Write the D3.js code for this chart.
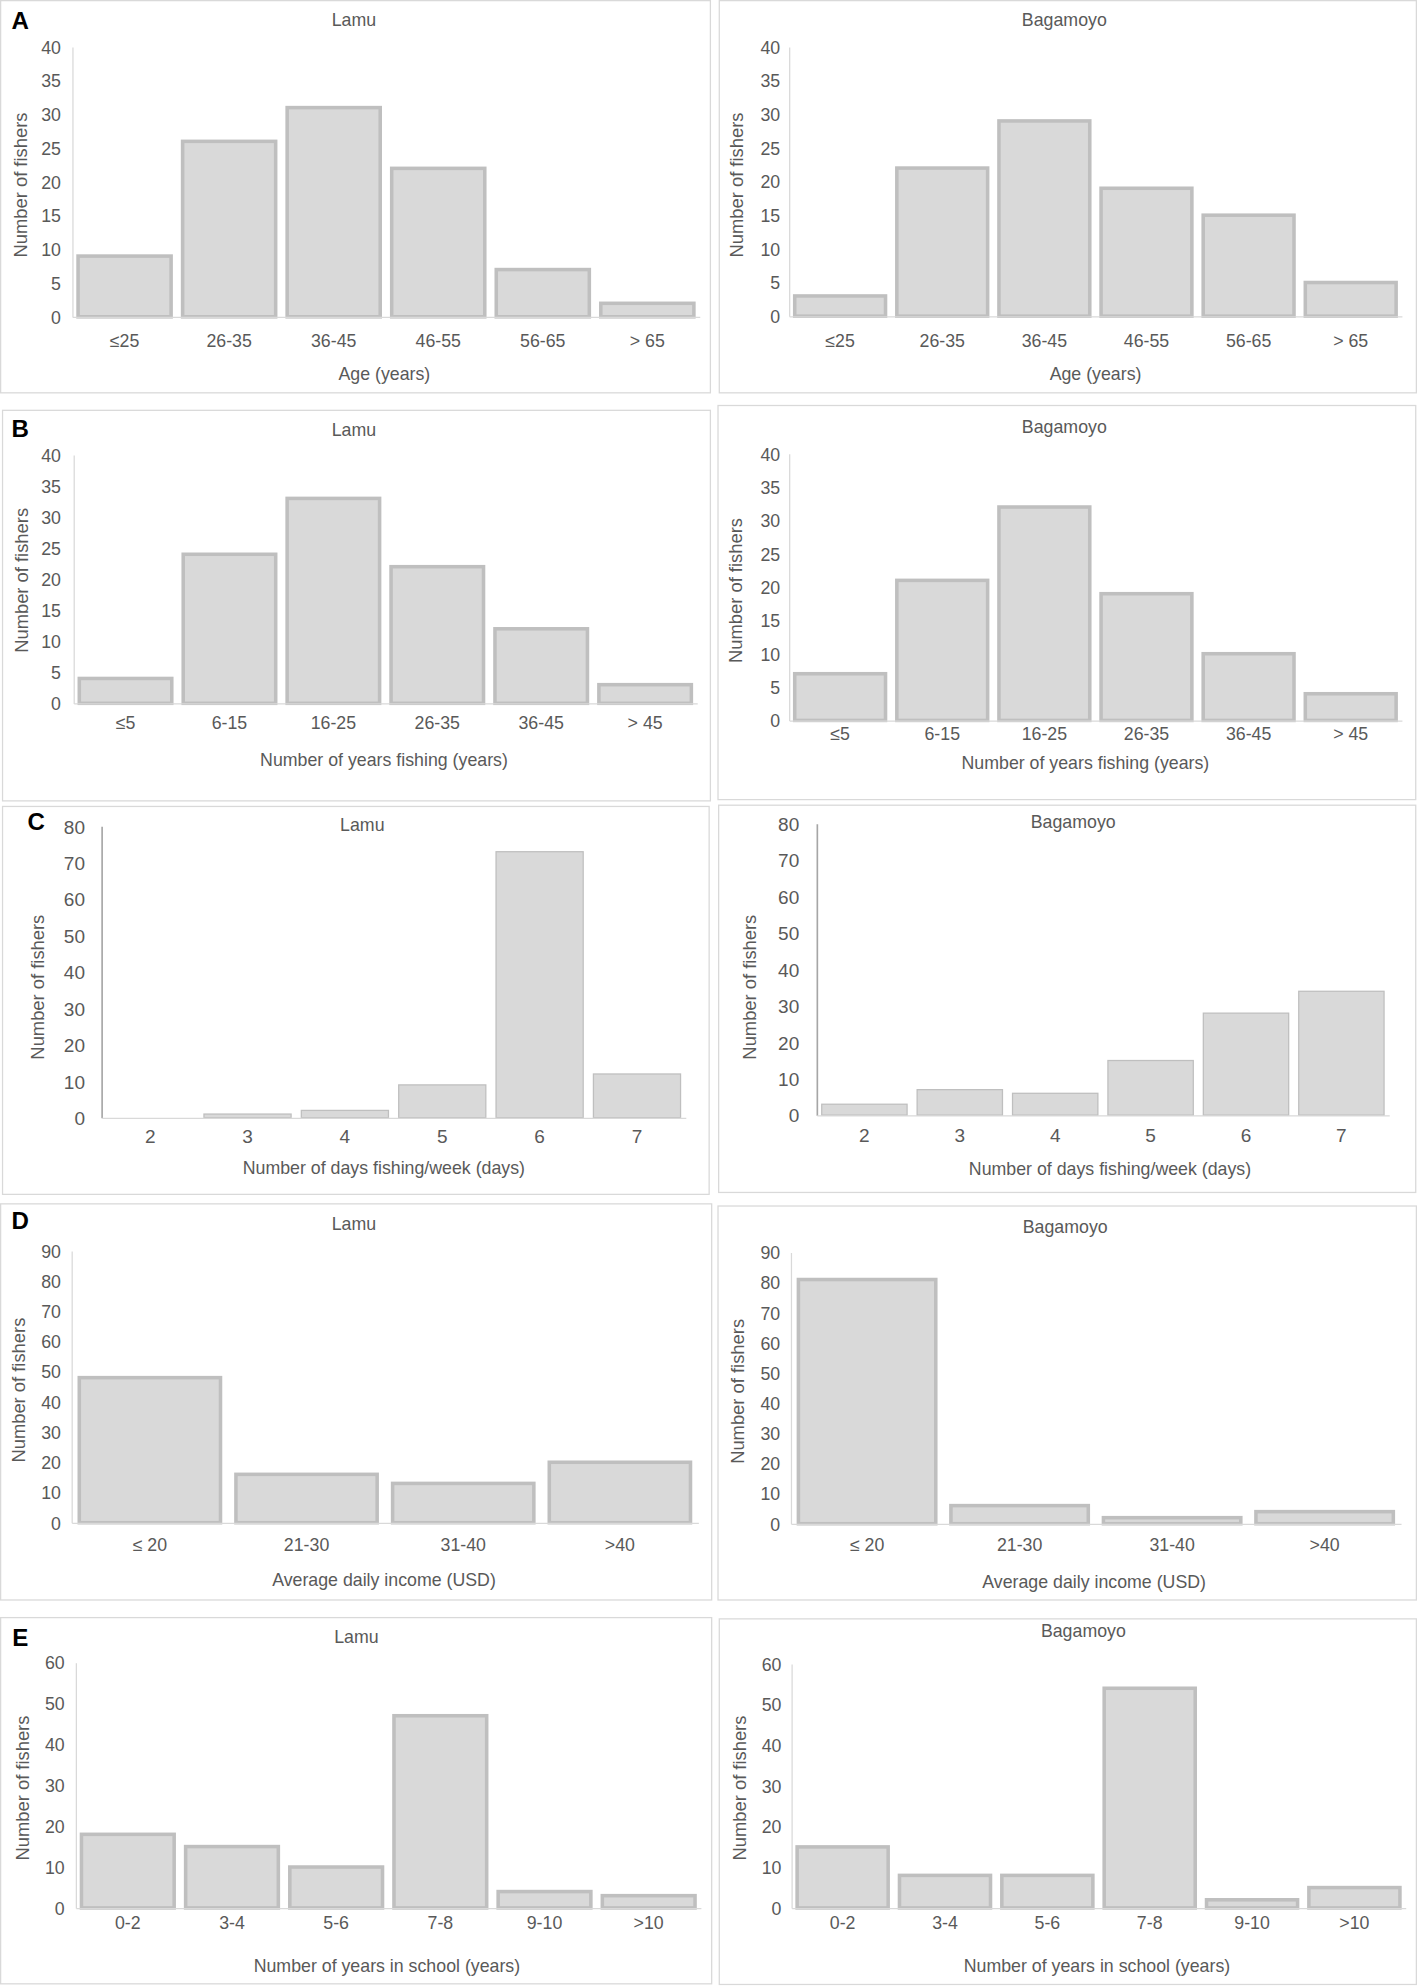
<!DOCTYPE html>
<html>
<head>
<meta charset="utf-8">
<script src="https://cdn.jsdelivr.net/npm/d3@7"></script>
<style>
  html, body { margin: 0; padding: 0; background: #ffffff; }
  svg { display: block; }
  text { font-family: "Liberation Sans", Arial, Helvetica, sans-serif; }
</style>
</head>
<body>
<div id="chart"></div>
<script>
// ---------------- DATA ----------------
const ageCats = ["≤25", "26-35", "36-45", "46-55", "56-65", "> 65"];
const ageLamu = [9, 26, 31, 22, 7, 2];
const ageBagamoyo = [3, 22, 29, 19, 15, 5];
const ageTicks = [0, 5, 10, 15, 20, 25, 30, 35, 40];

const fishingYearsCats = ["≤5", "6-15", "16-25", "26-35", "36-45", "> 45"];
const fishingYearsLamu = [4, 24, 33, 22, 12, 3];
const fishingYearsBagamoyo = [7, 21, 32, 19, 10, 4];
const fishingYearsTicks = [0, 5, 10, 15, 20, 25, 30, 35, 40];

const daysCats = ["2", "3", "4", "5", "6", "7"];
const daysLamu = [0, 1, 2, 9, 73, 12];
const daysBagamoyo = [3, 7, 6, 15, 28, 34];
const daysTicks = [0, 10, 20, 30, 40, 50, 60, 70, 80];

const incomeCats = ["≤ 20", "21-30", "31-40", ">40"];
const incomeLamu = [48, 16, 13, 20];
const incomeBagamoyo = [81, 6, 2, 4];
const incomeTicks = [0, 10, 20, 30, 40, 50, 60, 70, 80, 90];

const schoolCats = ["0-2", "3-4", "5-6", "7-8", "9-10", ">10"];
const schoolLamu = [18, 15, 10, 47, 4, 3];
const schoolBagamoyo = [15, 8, 8, 54, 2, 5];
const schoolTicks = [0, 10, 20, 30, 40, 50, 60];

const siteNames = ["Lamu", "Bagamoyo"];
const yTitle = "Number of fishers";
const xTitles = ["Age (years)", "Number of years fishing (years)", "Number of days fishing/week (days)",
                 "Average daily income (USD)", "Number of years in school (years)"];
const panelLetters = ["A", "B", "C", "D", "E"];

// ---------------- LAYOUT (display units, viewBox 1117 x 1568) ----------------
const panels = [
  // A
  { cats: ageCats, vals: ageLamu, ticks: ageTicks, title: siteNames[0], xt: xTitles[0], letter: panelLetters[0],
    box: [0.5, 0.5, 560, 310], letterPos: [16, 16], titlePos: [279, 16],
    px: [57, 551.5], py: [37, 250], tickRight: 48, yt: [16, 146], catY: 269, xtPos: [303, 295], style: "thick" },
  { cats: ageCats, vals: ageBagamoyo, ticks: ageTicks, title: siteNames[1], xt: xTitles[0],
    box: [567, 0.5, 1116.5, 310], titlePos: [839, 16],
    px: [622, 1105], py: [37, 249.5], tickRight: 615, yt: [581, 146], catY: 269, xtPos: [863.6, 295], style: "thick" },
  // B
  { cats: fishingYearsCats, vals: fishingYearsLamu, ticks: fishingYearsTicks, title: siteNames[0], xt: xTitles[1], letter: panelLetters[1],
    box: [2, 323.8, 560, 632], letterPos: [16, 338], titlePos: [279, 339],
    px: [58, 549.5], py: [359, 555], tickRight: 48, yt: [17, 458], catY: 570, xtPos: [302.7, 599.6], style: "thick" },
  { cats: fishingYearsCats, vals: fishingYearsBagamoyo, ticks: fishingYearsTicks, title: siteNames[1], xt: xTitles[1],
    box: [566, 320, 1116, 631], titlePos: [839, 337],
    px: [622, 1105], py: [358, 568.5], tickRight: 615, yt: [580, 466], catY: 579, xtPos: [855.6, 602], style: "thick" },
  // C
  { cats: daysCats, vals: daysLamu, ticks: daysTicks, title: siteNames[0], xt: xTitles[2], letter: panelLetters[2],
    box: [2, 636.4, 559, 942.5], letterPos: [28.6, 648], titlePos: [285.6, 650.5],
    px: [80, 540.5], py: [652, 882], tickRight: 67, yt: [29.3, 779], catY: 897, xtPos: [302.6, 921.6], style: "thin" },
  { cats: daysCats, vals: daysBagamoyo, ticks: daysTicks, title: siteNames[1], xt: xTitles[2],
    box: [566.5, 635.4, 1116, 941], titlePos: [846, 648.6],
    px: [643.8, 1095], py: [650, 880], tickRight: 630, yt: [591, 779], catY: 895.6, xtPos: [875, 922], style: "thin" },
  // D
  { cats: incomeCats, vals: incomeLamu, ticks: incomeTicks, title: siteNames[0], xt: xTitles[3], letter: panelLetters[3],
    box: [0.5, 950, 561, 1262.6], letterPos: [16, 963], titlePos: [279, 965.8],
    px: [56.4, 550.4], py: [987, 1201.6], tickRight: 48, yt: [15, 1097], catY: 1219, xtPos: [302.7, 1247], style: "thick" },
  { cats: incomeCats, vals: incomeBagamoyo, ticks: incomeTicks, title: siteNames[1], xt: xTitles[3],
    box: [566, 951.7, 1116.5, 1262.6], titlePos: [839.7, 968.4],
    px: [623.4, 1104.3], py: [988.3, 1202.4], tickRight: 615, yt: [581.7, 1098], catY: 1219, xtPos: [862.5, 1248], style: "thick" },
  // E
  { cats: schoolCats, vals: schoolLamu, ticks: schoolTicks, title: siteNames[0], xt: xTitles[4], letter: panelLetters[4],
    box: [0.5, 1276.5, 561, 1565.5], letterPos: [16, 1292], titlePos: [281, 1292],
    px: [59.7, 552.4], py: [1312, 1505.6], tickRight: 51, yt: [17.8, 1411], catY: 1517.5, xtPos: [305, 1551], style: "thick" },
  { cats: schoolCats, vals: schoolBagamoyo, ticks: schoolTicks, title: siteNames[1], xt: xTitles[4],
    box: [567, 1277.5, 1116.5, 1566], titlePos: [854, 1287],
    px: [623.9, 1108], py: [1313, 1505.6], tickRight: 616, yt: [582.8, 1411], catY: 1517.5, xtPos: [864.7, 1551], style: "thick" }
];

const TEXT = "#595959";
const FILL = "#d9d9d9";
const STROKE = "#bfbfbf";
const AXIS = "#d9d9d9";

const svg = d3.select("#chart").append("svg")
  .attr("width", 1417).attr("height", 1987)
  .attr("viewBox", "0 0 1117 1568")
  .attr("preserveAspectRatio", "none");

svg.append("rect").attr("x", 0).attr("y", 0).attr("width", 1117).attr("height", 1568).attr("fill", "#fff");

panels.forEach(p => {
  const thin = p.style === "thin";
  const g = svg.append("g");

  // panel frame
  g.append("rect")
    .attr("x", p.box[0]).attr("y", p.box[1])
    .attr("width", p.box[2] - p.box[0]).attr("height", p.box[3] - p.box[1])
    .attr("fill", "none").attr("stroke", "#d9d9d9").attr("stroke-width", 1);

  const yMax = d3.max(p.ticks);
  const y = d3.scaleLinear().domain([0, yMax]).range([p.py[1], p.py[0]]);
  const pad = thin ? 0.092 : 0.076;
  const x = d3.scaleBand().domain(p.cats).range([p.px[0], p.px[1]])
    .paddingInner(pad).paddingOuter(pad / 2);

  const sw = thin ? 1 : 2.8;

  // bars (outer edge of stroke = band extent)
  g.append("g").selectAll("rect").data(p.vals.map((v, i) => ({ c: p.cats[i], v })))
    .join("rect")
    .attr("x", d => x(d.c) + sw / 2)
    .attr("width", x.bandwidth() - sw)
    .attr("y", d => y(d.v))
    .attr("height", d => Math.max(0, y(0) - y(d.v)))
    .attr("fill", FILL)
    .attr("stroke", d => d.v > 0 ? STROKE : "none")
    .attr("stroke-width", sw);

  const fs = thin ? 15 : 14;

  // y axis
  const yAxis = g.append("g")
    .attr("transform", `translate(${p.px[0]},0)`)
    .call(d3.axisLeft(y).tickValues(p.ticks).tickSize(0).tickSizeOuter(0)
      .tickPadding(p.px[0] - p.tickRight).tickFormat(d3.format("d")));
  yAxis.select(".domain").attr("stroke", thin ? "#a6a6a6" : AXIS).attr("stroke-width", thin ? 1.3 : 1);
  yAxis.selectAll("text").attr("fill", TEXT).style("font-size", fs + "px").attr("dy", "0.35em");

  // x axis
  const xAxis = g.append("g")
    .attr("transform", `translate(0,${p.py[1]})`)
    .call(d3.axisBottom(x).tickSize(0).tickSizeOuter(0));
  xAxis.select(".domain").attr("stroke", AXIS).attr("stroke-width", 1);
  xAxis.selectAll("text").attr("fill", TEXT).style("font-size", fs + "px")
    .attr("y", p.catY - p.py[1]).attr("dy", "0.35em");

  // titles
  g.append("text").attr("x", p.titlePos[0]).attr("y", p.titlePos[1]).attr("dy", "0.35em")
    .attr("text-anchor", "middle").attr("fill", TEXT).style("font-size", "14px").text(p.title);

  g.append("text").attr("transform", `translate(${p.yt[0]},${p.yt[1]}) rotate(-90)`).attr("dy", "0.35em")
    .attr("text-anchor", "middle").attr("fill", TEXT).style("font-size", "14.5px").text(yTitle);

  g.append("text").attr("x", p.xtPos[0]).attr("y", p.xtPos[1]).attr("dy", "0.35em")
    .attr("text-anchor", "middle").attr("fill", TEXT).style("font-size", "14px").text(p.xt);

  if (p.letter) {
    g.append("text").attr("x", p.letterPos[0]).attr("y", p.letterPos[1]).attr("dy", "0.36em")
      .attr("text-anchor", "middle").attr("fill", "#000").style("font-size", "19px")
      .style("font-weight", "bold").text(p.letter);
  }
});
</script>
</body>
</html>
